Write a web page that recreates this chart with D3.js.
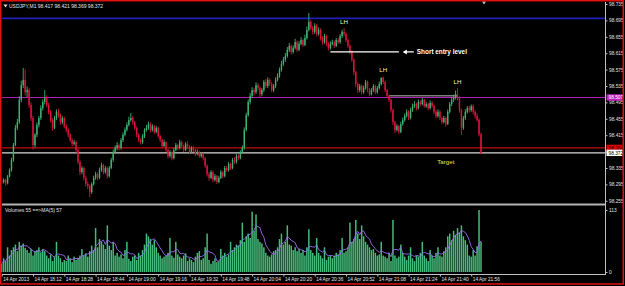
<!DOCTYPE html>
<html>
<head>
<meta charset="utf-8">
<script src="https://cdn.jsdelivr.net/npm/d3@7"></script>
<style>
  html, body { margin: 0; padding: 0; background: #000; }
  svg { display: block; }
  text { font-family: "Liberation Sans", Arial, sans-serif; }
</style>
</head>
<body>
<div id="chart"></div>
<script>
// ---- data (USDJPY M1, 14 Apr 2013) ----
const chartTitle = "USDJPY,M1  98.417 98.421 98.369 98.372";
const volumeTitle = "Volumes 55  ==>MA(5) 57";
const timeLabels = ["14 Apr 2013", "14 Apr 18:12", "14 Apr 18:28", "14 Apr 18:44", "14 Apr 19:00",
  "14 Apr 19:16", "14 Apr 19:32", "14 Apr 19:48", "14 Apr 20:04", "14 Apr 20:20", "14 Apr 20:36",
  "14 Apr 20:52", "14 Apr 21:08", "14 Apr 21:24", "14 Apr 21:40", "14 Apr 21:56"];
const priceTicks = [98.735, 98.695, 98.655, 98.615, 98.575, 98.535, 98.495, 98.455, 98.415,
  98.375, 98.335, 98.295, 98.255];
const volumeTicks = [113, 0];

const opens = [
98.305,98.301,98.306,98.298,98.315,98.330,98.355,98.391,98.433,98.447,
98.501,98.537,98.550,98.520,98.525,98.489,98.457,98.391,98.416,98.440,
98.457,98.481,98.496,98.506,98.489,98.472,98.452,98.433,98.457,98.472,
98.464,98.447,98.457,98.437,98.428,98.416,98.403,98.394,98.398,98.379,
98.350,98.325,98.335,98.311,98.296,98.291,98.276,98.296,98.311,98.320,
98.311,98.330,98.342,98.325,98.335,98.315,98.335,98.355,98.374,98.384,
98.391,98.384,98.403,98.416,98.428,98.440,98.452,98.457,98.447,98.433,
98.416,98.403,98.398,98.413,98.428,98.433,98.442,98.428,98.437,98.423,
98.433,98.413,98.403,98.389,98.398,98.379,98.364,98.374,98.359,98.379,
98.391,98.384,98.398,98.389,98.379,98.394,98.386,98.374,98.384,98.379,
98.369,98.374,98.364,98.369,98.359,98.340,98.320,98.311,98.325,98.306,
98.315,98.301,98.311,98.325,98.315,98.335,98.330,98.345,98.335,98.355,
98.350,98.364,98.359,98.374,98.384,98.428,98.464,98.496,98.511,98.525,
98.520,98.537,98.530,98.515,98.525,98.545,98.535,98.550,98.540,98.525,
98.535,98.550,98.560,98.574,98.589,98.599,98.608,98.623,98.633,98.618,
98.628,98.642,98.623,98.638,98.647,98.635,98.652,98.672,98.691,98.677,
98.667,98.682,98.662,98.672,98.652,98.642,98.657,98.638,98.628,98.638,
98.642,98.633,98.647,98.642,98.657,98.667,98.662,98.647,98.633,98.618,
98.599,98.569,98.540,98.525,98.535,98.520,98.530,98.545,98.525,98.515,
98.525,98.535,98.520,98.530,98.540,98.555,98.545,98.525,98.511,98.501,
98.476,98.447,98.428,98.437,98.423,98.442,98.452,98.462,98.472,98.457,
98.476,98.486,98.491,98.481,98.496,98.491,98.501,98.486,98.491,98.481,
98.494,98.486,98.472,98.462,98.472,98.457,98.447,98.457,98.442,98.472,
98.491,98.501,98.506,98.515,98.506,98.476,98.433,98.457,98.472,98.481,
98.476,98.486,98.472,98.462,98.452,98.417];

const highs = [
98.312,98.310,98.309,98.318,98.334,98.360,98.396,98.440,98.455,98.510,
98.548,98.579,98.576,98.534,98.530,98.495,98.462,98.420,98.446,98.462,
98.488,98.502,98.525,98.512,98.494,98.476,98.456,98.462,98.478,98.480,
98.468,98.462,98.460,98.442,98.432,98.420,98.408,98.404,98.402,98.383,
98.354,98.340,98.338,98.316,98.302,98.295,98.300,98.316,98.326,98.324,
98.336,98.348,98.345,98.340,98.338,98.340,98.360,98.380,98.390,98.398,
98.395,98.408,98.422,98.434,98.446,98.460,98.469,98.462,98.450,98.436,
98.420,98.408,98.418,98.432,98.440,98.448,98.446,98.442,98.440,98.438,
98.436,98.416,98.406,98.404,98.400,98.382,98.378,98.376,98.384,98.396,
98.394,98.404,98.402,98.392,98.398,98.400,98.390,98.388,98.388,98.382,
98.380,98.377,98.374,98.372,98.362,98.344,98.325,98.330,98.328,98.320,
98.318,98.316,98.330,98.328,98.340,98.340,98.350,98.348,98.360,98.362,
98.370,98.368,98.378,98.390,98.434,98.470,98.502,98.518,98.532,98.530,
98.544,98.542,98.534,98.530,98.550,98.552,98.556,98.554,98.544,98.540,
98.556,98.566,98.580,98.596,98.606,98.616,98.630,98.640,98.636,98.634,
98.650,98.646,98.644,98.654,98.650,98.660,98.680,98.713,98.696,98.682,
98.688,98.686,98.678,98.676,98.656,98.662,98.660,98.642,98.644,98.648,
98.646,98.652,98.652,98.662,98.672,98.676,98.666,98.650,98.636,98.622,
98.602,98.572,98.544,98.540,98.538,98.536,98.550,98.548,98.530,98.530,
98.540,98.538,98.535,98.546,98.556,98.558,98.548,98.528,98.514,98.504,
98.480,98.450,98.442,98.440,98.448,98.458,98.468,98.478,98.476,98.482,
98.492,98.498,98.494,98.502,98.500,98.506,98.504,98.496,98.494,98.500,
98.498,98.490,98.476,98.478,98.476,98.460,98.462,98.460,98.478,98.496,
98.508,98.514,98.524,98.530,98.510,98.480,98.462,98.478,98.486,98.486,
98.490,98.490,98.476,98.468,98.456,98.421];

const lows = [
98.296,98.297,98.292,98.295,98.312,98.326,98.350,98.388,98.428,98.442,
98.495,98.530,98.512,98.508,98.482,98.450,98.380,98.385,98.410,98.434,
98.452,98.475,98.490,98.484,98.466,98.446,98.426,98.430,98.452,98.458,
98.440,98.442,98.432,98.422,98.410,98.398,98.388,98.390,98.372,98.344,
98.318,98.320,98.305,98.290,98.284,98.264,98.272,98.292,98.306,98.305,
98.308,98.326,98.320,98.321,98.310,98.312,98.332,98.350,98.370,98.378,
98.378,98.380,98.398,98.412,98.424,98.436,98.448,98.440,98.428,98.410,
98.398,98.392,98.394,98.408,98.424,98.428,98.422,98.424,98.418,98.420,
98.408,98.398,98.384,98.386,98.374,98.358,98.360,98.354,98.356,98.376,
98.378,98.380,98.384,98.374,98.376,98.382,98.370,98.370,98.374,98.364,
98.366,98.360,98.360,98.354,98.335,98.314,98.304,98.308,98.300,98.302,
98.296,98.298,98.308,98.310,98.312,98.326,98.326,98.330,98.332,98.345,
98.346,98.354,98.356,98.370,98.380,98.424,98.460,98.490,98.506,98.512,
98.516,98.524,98.508,98.510,98.520,98.530,98.530,98.535,98.520,98.520,
98.530,98.546,98.555,98.570,98.584,98.594,98.604,98.618,98.612,98.614,
98.624,98.618,98.620,98.634,98.630,98.632,98.648,98.668,98.672,98.660,
98.662,98.656,98.658,98.646,98.636,98.638,98.632,98.622,98.624,98.634,
98.628,98.630,98.638,98.638,98.652,98.656,98.642,98.628,98.612,98.594,
98.562,98.532,98.518,98.520,98.514,98.516,98.526,98.520,98.510,98.512,
98.520,98.515,98.516,98.526,98.536,98.540,98.520,98.506,98.496,98.470,
98.440,98.420,98.424,98.418,98.420,98.438,98.448,98.458,98.452,98.454,
98.472,98.482,98.476,98.478,98.486,98.488,98.482,98.482,98.476,98.478,
98.482,98.466,98.456,98.458,98.452,98.442,98.444,98.436,98.440,98.468,
98.486,98.496,98.502,98.500,98.470,98.416,98.428,98.452,98.468,98.470,
98.472,98.466,98.456,98.448,98.412,98.369];

const closes = [
98.301,98.306,98.298,98.315,98.330,98.355,98.391,98.433,98.447,98.501,
98.537,98.550,98.520,98.525,98.489,98.457,98.391,98.416,98.440,98.457,
98.481,98.496,98.506,98.489,98.472,98.452,98.433,98.457,98.472,98.464,
98.447,98.457,98.437,98.428,98.416,98.403,98.394,98.398,98.379,98.350,
98.325,98.335,98.311,98.296,98.291,98.276,98.296,98.311,98.320,98.311,
98.330,98.342,98.325,98.335,98.315,98.335,98.355,98.374,98.384,98.391,
98.384,98.403,98.416,98.428,98.440,98.452,98.457,98.447,98.433,98.416,
98.403,98.398,98.413,98.428,98.433,98.442,98.428,98.437,98.423,98.433,
98.413,98.403,98.389,98.398,98.379,98.364,98.374,98.359,98.379,98.391,
98.384,98.398,98.389,98.379,98.394,98.386,98.374,98.384,98.379,98.369,
98.374,98.364,98.369,98.359,98.340,98.320,98.311,98.325,98.306,98.315,
98.301,98.311,98.325,98.315,98.335,98.330,98.345,98.335,98.355,98.350,
98.364,98.359,98.374,98.384,98.428,98.464,98.496,98.511,98.525,98.520,
98.537,98.530,98.515,98.525,98.545,98.535,98.550,98.540,98.525,98.535,
98.550,98.560,98.574,98.589,98.599,98.608,98.623,98.633,98.618,98.628,
98.642,98.623,98.638,98.647,98.635,98.652,98.672,98.691,98.677,98.667,
98.682,98.662,98.672,98.652,98.642,98.657,98.638,98.628,98.638,98.642,
98.633,98.647,98.642,98.657,98.667,98.662,98.647,98.633,98.618,98.599,
98.569,98.540,98.525,98.535,98.520,98.530,98.545,98.525,98.515,98.525,
98.535,98.520,98.530,98.540,98.555,98.545,98.525,98.511,98.501,98.476,
98.447,98.428,98.437,98.423,98.442,98.452,98.462,98.472,98.457,98.476,
98.486,98.491,98.481,98.496,98.491,98.501,98.486,98.491,98.481,98.494,
98.486,98.472,98.462,98.472,98.457,98.447,98.457,98.442,98.472,98.491,
98.501,98.506,98.515,98.506,98.476,98.433,98.457,98.472,98.481,98.476,
98.486,98.472,98.462,98.452,98.417,98.372];

const volumes = [
15,25,20,45,30,40,45,50,38,55,
48,52,44,40,35,42,30,38,40,45,
36,42,38,30,25,32,20,28,55,30,
25,18,22,20,30,25,18,28,22,26,
30,42,30,34,28,38,48,40,80,45,
60,55,50,42,85,48,40,55,30,35,
28,32,25,40,55,24,20,28,30,22,
35,30,40,50,70,65,60,50,58,45,
35,30,25,28,30,35,62,30,26,55,
32,28,25,30,34,20,25,22,18,28,
35,38,22,25,45,70,22,15,20,25,
18,20,42,30,35,28,32,55,40,45,
50,48,58,90,55,65,70,62,110,75,
105,60,55,52,45,35,30,28,32,38,
40,45,60,70,50,55,85,50,48,40,
45,38,42,35,40,30,45,78,40,35,
30,62,35,30,25,45,22,28,30,25,
30,35,32,40,62,35,38,45,90,55,
60,95,70,60,85,65,55,50,45,40,
42,35,30,32,55,30,28,25,35,20,
95,30,25,28,50,35,28,22,30,45,
25,20,30,28,35,55,30,25,20,40,
30,25,35,45,30,28,38,45,65,70,
58,75,68,80,72,85,65,58,50,30,
28,40,30,47,113,55];

// horizontal levels drawn on the chart
const levelPrices = [98.700, 98.507, 98.384, 98.372];
const levelColors = ["#2020b8", "#b020b0", "#c01010", "#d8d8d8"];
const levelLabels = [null, "98.507", "98.384", "98.372"];
const labelFills = [null, "#c020c0", "#e00000", "#ffffff"];
const labelInk = [null, "#ffffff", "#300000", "#000000"];

// annotations
const lhBars = [175, 195, 233];
const entryPrice = 98.618, entryFrom = 168, entryTo = 203;
const resistPrice = 98.511, resistFrom = 198, resistTo = 233;
const targetBar = 227, targetPrice = 98.350;

// ---- chart ----
const W = 625, H = 286;
const plotRight = 605.5;
const svg = d3.select("#chart").append("svg").attr("width", W).attr("height", H);

svg.append("rect").attr("width", W).attr("height", H).attr("fill", "#000");

const x = d3.scaleLinear().domain([0, closes.length - 1]).range([1.7, 481]);
const y = d3.scaleLinear().domain([98.255, 98.735]).range([200.8, 4]);
const yv = d3.scaleLinear().domain([0, 113]).range([272, 210]);

svg.append("clipPath").attr("id", "pclip").append("rect")
  .attr("x", 2).attr("y", 2).attr("width", plotRight - 2).attr("height", 201);

const price = svg.append("g").attr("clip-path", "url(#pclip)");

// level lines
price.selectAll("line.level").data(levelPrices).join("line")
  .attr("class", "level")
  .attr("x1", 2).attr("x2", plotRight)
  .attr("y1", d => y(d)).attr("y2", d => y(d))
  .attr("stroke", (d, i) => levelColors[i])
  .attr("stroke-width", (d, i) => i === 0 ? 1.7 : 1.2);

// resistance line between the lower highs
price.append("line")
  .attr("x1", x(resistFrom)).attr("x2", x(resistTo))
  .attr("y1", y(resistPrice)).attr("y2", y(resistPrice))
  .attr("stroke", "#b8b8b8").attr("stroke-width", 1);

// candles
const bars = d3.range(closes.length);
const up = i => closes[i] >= opens[i];
price.selectAll("line.wick").data(bars).join("line")
  .attr("class", "wick")
  .attr("x1", i => x(i)).attr("x2", i => x(i))
  .attr("y1", i => y(highs[i])).attr("y2", i => y(lows[i]))
  .attr("stroke", i => up(i) ? "#3cb371" : "#dc143c")
  .attr("stroke-width", 0.9);
price.selectAll("rect.body").data(bars).join("rect")
  .attr("class", "body")
  .attr("x", i => x(i) - 0.7)
  .attr("width", 1.4)
  .attr("y", i => y(Math.max(opens[i], closes[i])))
  .attr("height", i => Math.max(0.8, Math.abs(y(opens[i]) - y(closes[i]))))
  .attr("fill", i => up(i) ? "#3cb371" : "#dc143c");

// short entry level
price.append("line")
  .attr("x1", x(entryFrom)).attr("x2", x(entryTo))
  .attr("y1", y(entryPrice)).attr("y2", y(entryPrice))
  .attr("stroke", "#ffffff").attr("stroke-width", 1.2);
const ax0 = x(entryTo) + 5;
price.append("line")
  .attr("x1", ax0).attr("x2", ax0 + 10)
  .attr("y1", y(entryPrice)).attr("y2", y(entryPrice))
  .attr("stroke", "#ffffff").attr("stroke-width", 1.2);
price.append("path")
  .attr("d", `M${ax0 - 1},${y(entryPrice)}l4,-2.5v5z`)
  .attr("fill", "#ffffff");
price.append("text")
  .attr("x", ax0 + 13).attr("y", y(entryPrice) + 2.2)
  .attr("fill", "#ffffff").attr("font-size", 6.4).attr("font-weight", "bold")
  .text("Short entry level");

price.selectAll("text.lh").data(lhBars).join("text")
  .attr("class", "lh")
  .attr("x", i => x(i)).attr("y", i => y(highs[i]) - 4.5)
  .attr("text-anchor", "middle")
  .attr("fill", "#f0f0c0").attr("font-size", 6.2)
  .text("LH");

price.append("text")
  .attr("x", x(targetBar)).attr("y", y(targetPrice) + 2)
  .attr("text-anchor", "middle")
  .attr("fill", "#e8e040").attr("font-size", 6.2)
  .text("Target");

// chart title
svg.append("path").attr("d", "M3.5,4.5h4l-2,3z").attr("fill", "#e0e0e0");
svg.append("text").attr("x", 9).attr("y", 7.6)
  .attr("fill", "#e0e0e0").attr("font-size", 5).text(chartTitle);
// shift marker
svg.append("path").attr("d", `M${x(closes.length - 1) + 1},1.5h4l-2,3z`).attr("fill", "#c8c8c8");

// price axis
const py = svg.append("g").attr("transform", `translate(${plotRight},0)`)
  .call(d3.axisRight(y).tickValues(priceTicks).tickSize(2).tickPadding(1.5)
    .tickFormat(d3.format(".3f")));
py.select(".domain").remove();
py.selectAll("line").attr("stroke", "#c0c0c0");
py.selectAll("text").attr("fill", "#e0e0e0").attr("font-size", 4.8);

// level labels on the axis
levelPrices.forEach((p, i) => {
  if (!levelLabels[i]) return;
  svg.append("rect").attr("x", plotRight + 1).attr("y", y(p) - 3.2)
    .attr("width", 16).attr("height", 6.4).attr("fill", labelFills[i]);
  svg.append("text").attr("x", plotRight + 3).attr("y", y(p) + 1.8)
    .attr("fill", labelInk[i]).attr("font-size", 4.8).text(levelLabels[i]);
});

// volume panel
const ma = volumes.map((v, i) => d3.mean(volumes.slice(Math.max(0, i - 4), i + 1)));
svg.selectAll("rect.vol").data(bars).join("rect")
  .attr("class", "vol")
  .attr("x", i => x(i) - 0.75).attr("width", 1.5)
  .attr("y", i => yv(volumes[i]))
  .attr("height", i => yv(0) - yv(volumes[i]))
  .attr("fill", "#44bb7a");
svg.append("path").datum(bars)
  .attr("d", d3.line().x(i => x(i)).y(i => yv(ma[i])))
  .attr("fill", "none").attr("stroke", "#9a6cf0").attr("stroke-width", 0.9);

svg.append("text").attr("x", 5).attr("y", 212)
  .attr("fill", "#e0e0e0").attr("font-size", 5).text(volumeTitle);

const vy = svg.append("g").attr("transform", `translate(${plotRight},0)`)
  .call(d3.axisRight(yv).tickValues(volumeTicks).tickSize(2).tickPadding(1.5));
vy.select(".domain").remove();
vy.selectAll("line").attr("stroke", "#c0c0c0");
vy.selectAll("text").attr("fill", "#e0e0e0").attr("font-size", 4.8);

// frame lines
svg.append("line").attr("x1", 2).attr("x2", plotRight).attr("y1", 204.5).attr("y2", 204.5)
  .attr("stroke", "#b4b4b4").attr("stroke-width", 2);
svg.append("line").attr("x1", 2).attr("x2", plotRight + 0.5).attr("y1", 274.5).attr("y2", 274.5)
  .attr("stroke", "#c0c0c0").attr("stroke-width", 1);
svg.append("line").attr("x1", plotRight).attr("x2", plotRight).attr("y1", 2).attr("y2", 275)
  .attr("stroke", "#c0c0c0").attr("stroke-width", 1);

// time axis
const tickBars = d3.range(0, closes.length, 16);
const tx = svg.append("g").attr("transform", "translate(0,274.5)")
  .call(d3.axisBottom(x).tickValues(tickBars).tickSize(2).tickPadding(1)
    .tickFormat((d, i) => timeLabels[i]));
tx.select(".domain").remove();
tx.selectAll("line").attr("stroke", "#c0c0c0");
tx.selectAll("text").attr("fill", "#e0e0e0").attr("font-size", 4.8)
  .attr("text-anchor", "start").attr("dx", 1);

// red window border
svg.append("rect").attr("x", 0.75).attr("y", 0.75).attr("width", W - 2.5).attr("height", H - 2.8)
  .attr("fill", "none").attr("stroke", "#e01010").attr("stroke-width", 1.5);
</script>
</body>
</html>
